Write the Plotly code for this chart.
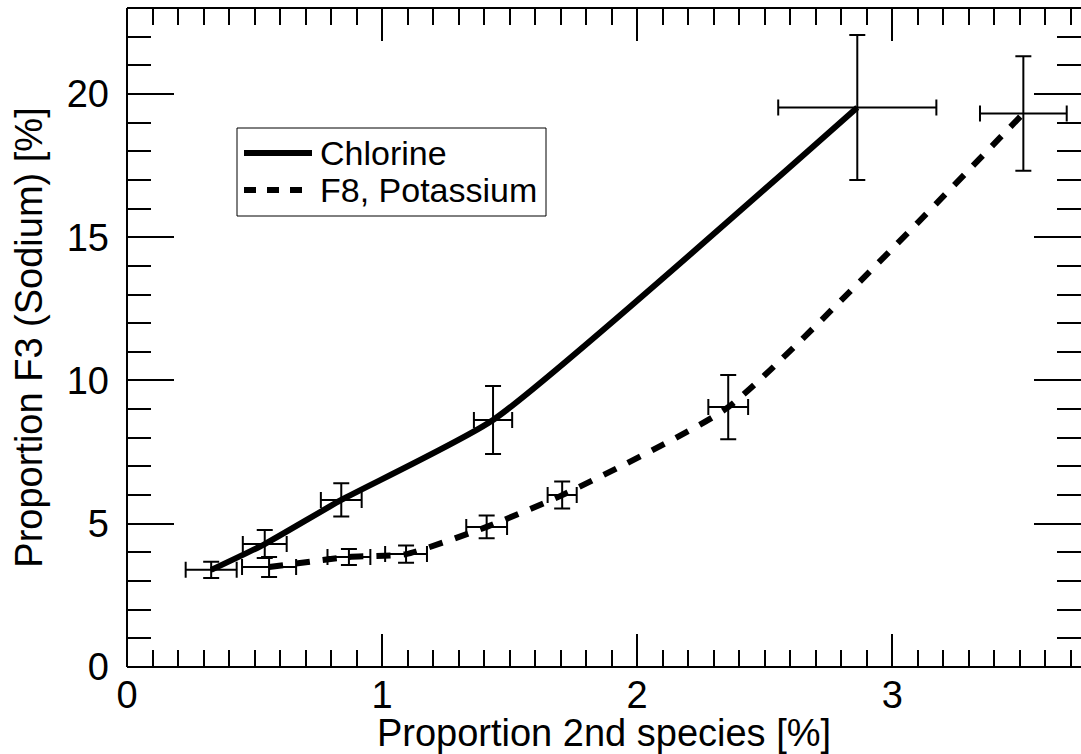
import plotly.graph_objects as go

# Chlorine series
cl_x = [0.33, 0.54, 0.84, 1.435, 2.863]
cl_y = [3.39, 4.29, 5.83, 8.62, 19.53]
cl_xerr = [0.10, 0.086, 0.08, 0.075, 0.31]
cl_yerr = [0.28, 0.49, 0.58, 1.19, 2.53]

# F8, Potassium series
k_x = [0.557, 0.87, 1.094, 1.41, 1.706, 2.357, 3.514]
k_y = [3.49, 3.84, 3.94, 4.89, 6.0, 9.07, 19.32]
k_xerr = [0.106, 0.084, 0.082, 0.08, 0.057, 0.078, 0.17]
k_yerr = [0.35, 0.28, 0.30, 0.40, 0.47, 1.12, 2.0]

series_names = ["Chlorine", "F8, Potassium"]

x_range = [0, 3.74]
y_range = [0, 23]

FONT = "Liberation Sans, Arial, sans-serif"
W, H = 1081, 754
M_L, M_R, M_T, M_B = 127, 0, 8, 87
PLOT_W = W - M_L - M_R
PLOT_H = H - M_T - M_B


def px_x(p):
    """Page pixel column -> paper x."""
    return (p - M_L) / PLOT_W


def px_y(p):
    """Page pixel row -> paper y."""
    return (H - M_B - p) / PLOT_H


def err(arr):
    return dict(type="data", array=arr, visible=True, color="black", thickness=2, width=8)


LINE_W = 6
DASH = "14px,13px"
LEGEND_DASH = "12px,11px"

fig = go.Figure()
fig.add_trace(go.Scatter(
    x=cl_x, y=cl_y, mode="lines", name=series_names[0], showlegend=False,
    line=dict(color="black", width=LINE_W, shape="spline", smoothing=0.5),
    error_x=err(cl_xerr), error_y=err(cl_yerr),
))
fig.add_trace(go.Scatter(
    x=k_x, y=k_y, mode="lines", name=series_names[1], showlegend=False,
    line=dict(color="black", width=LINE_W, dash=DASH, shape="spline", smoothing=0.5),
    error_x=err(k_xerr), error_y=err(k_yerr),
))

axis_common = dict(
    showgrid=False, zeroline=False, showline=False,
    ticks="inside", mirror="ticks", tickcolor="black", tickwidth=2,
    tickfont=dict(family=FONT, size=38, color="black"),
)

fig.update_xaxes(
    range=x_range, dtick=1, tick0=0, ticklen=33,
    minor=dict(dtick=0.1, tick0=0, ticks="inside", ticklen=17, tickwidth=2, tickcolor="black"),
    title=dict(text="Proportion 2nd species [%]", font=dict(family=FONT, size=38, color="black"), standoff=0),
    ticklabelstandoff=2,
    **axis_common,
)
fig.update_yaxes(
    range=y_range, dtick=5, tick0=0, ticklen=47,
    minor=dict(dtick=1, tick0=0, ticks="inside", ticklen=24, tickwidth=2, tickcolor="black"),
    title=dict(text="Proportion F3 (Sodium) [%]", font=dict(family=FONT, size=38, color="black"), standoff=12),
    ticklabelstandoff=17,
    **axis_common,
)

# Frame on the left, bottom and top sides
for x0, y0, x1, y1 in [(0, 0, 0, 1), (0, 0, 1, 0), (0, 1, 1, 1)]:
    fig.add_shape(type="line", xref="paper", yref="paper", x0=x0, y0=y0, x1=x1, y1=y1,
                  line=dict(color="black", width=2))

# Legend box with line samples and labels
fig.add_shape(type="rect", xref="paper", yref="paper",
              x0=px_x(237), x1=px_x(546), y0=px_y(128), y1=px_y(216),
              line=dict(color="black", width=1), fillcolor="white", layer="above")
legend_rows = [(153, None), (190, LEGEND_DASH)]
for name, (row, dash) in zip(series_names, legend_rows):
    fig.add_shape(type="line", xref="paper", yref="paper",
                  x0=px_x(244), x1=px_x(312), y0=px_y(row), y1=px_y(row),
                  line=dict(color="black", width=LINE_W, dash=dash), layer="above")
    fig.add_annotation(text=name, xref="paper", yref="paper", x=px_x(318), y=px_y(row),
                       xanchor="left", yanchor="middle", showarrow=False,
                       font=dict(family=FONT, size=34, color="black"))

fig.update_layout(
    width=W, height=H,
    margin=dict(l=M_L, r=M_R, t=M_T, b=M_B),
    plot_bgcolor="white", paper_bgcolor="white",
    font=dict(family=FONT, size=38, color="black"),
    showlegend=False,
)

fig.write_html("out.html")
